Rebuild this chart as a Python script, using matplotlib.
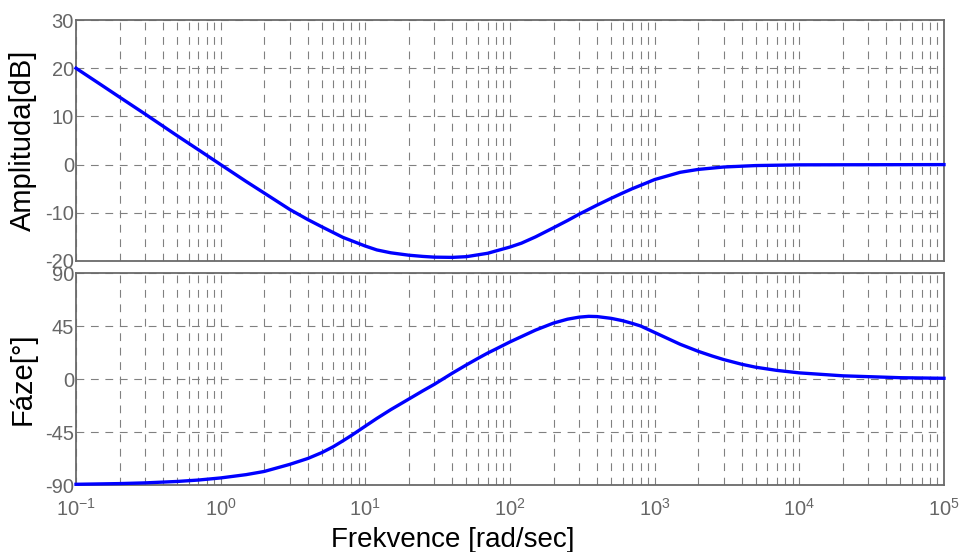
"""
Bode plot (amplitude and phase) redrawn from a MATLAB style figure.
"""

# import libraries
import matplotlib
matplotlib.use("Agg")
import matplotlib.pyplot as plt
from matplotlib.ticker import LogLocator, NullFormatter, FixedLocator, FixedFormatter

#####
# DATA
#####

# amplitude curve
w_amp = [0.1, 0.15, 0.2, 0.3, 0.5, 0.7, 1, 1.5, 2, 3, 4, 5, 7, 10, 12, 15,
	20, 25, 30, 40, 50, 70, 100, 120, 150, 200, 250, 300, 400, 500, 600,
	700, 800, 1000, 1500, 2000, 3000, 5000, 10000, 100000]
amp = [20, 16.5, 14, 10.5, 6, 3.1, 0, -3.5, -5.9, -9.3, -11.4, -12.9, -15.1,
	-16.9, -17.7, -18.3, -18.8, -19.05, -19.2, -19.25, -19.1, -18.4, -17.1,
	-16.3, -15.0, -13.1, -11.6, -10.3, -8.4, -7.0, -5.9, -5.0, -4.3, -3.1,
	-1.6, -1.0, -0.5, -0.2, -0.05, 0]

# phase curve
w_ph = [0.1, 0.2, 0.3, 0.5, 0.7, 1, 1.5, 2, 3, 4, 5, 6, 7, 8, 10, 12, 15,
	20, 25, 30, 40, 50, 60, 70, 80, 100, 120, 150, 200, 250, 300, 350, 400,
	500, 600, 700, 800, 1000, 1200, 1500, 2000, 2500, 3000, 4000, 5000,
	7000, 10000, 20000, 50000, 100000]
phase = [-89.4, -88.8, -88.2, -87, -85.8, -84, -81.2, -78.5, -72.5, -67.5,
	-62.5, -57.5, -52.5, -48, -40, -33.5, -26, -17, -10, -4.5, 5, 12, 17.5,
	22, 25.5, 31.5, 36, 41.5, 47.5, 50.8, 52.5, 53.2, 53, 51.5, 49.5, 47.2,
	45, 39.5, 35, 29.5, 23.5, 19.5, 16.5, 12.5, 10, 7.3, 5.2, 2.7, 1.1, 0.6]

# axes limits and tick labels
amp_ticks = [-20, -10, 0, 10, 20, 30]
phase_ticks = [-90, -45, 0, 45, 90]
x_decades = [0.1, 1, 10, 100, 1000, 10000, 100000]
x_decade_labels = ["10$^{\\mathregular{-1}}$", "10$^{0}$", "10$^{1}$",
	"10$^{2}$", "10$^{3}$", "10$^{4}$", "10$^{5}$"]

#####
# CREATE AND FORMAT FIGURE
#####

plt.rcParams["font.family"] = ["Liberation Sans", "DejaVu Sans"]
plt.rcParams["mathtext.fontset"] = "custom"
plt.rcParams["mathtext.rm"] = "Liberation Sans"
plt.rcParams["mathtext.default"] = "regular"
plt.rcParams["axes.unicode_minus"] = False

fontsize_ticks = 14.5
fontsize_labels = 21
grey_text = "#666666"
grey_spine = "#6a6a6a"
grey_grid = "#808080"
grid_dash = (0, (7, 6))

fig = plt.figure(figsize = (9.61, 5.52), dpi = 100)
ax_amp = fig.add_axes([76/961, 1 - 261/552, 868/961, 241/552])
ax_ph = fig.add_axes([76/961, 1 - 485/552, 868/961, 212/552])

for ax in [ax_amp, ax_ph]:
	ax.set_xscale("log")
	ax.set_xlim([x_decades[0], x_decades[-1]])
	ax.xaxis.set_major_locator(FixedLocator(x_decades))
	ax.xaxis.set_major_formatter(FixedFormatter(x_decade_labels))
	ax.xaxis.set_minor_locator(LogLocator(base = 10, subs = range(2, 10), numticks = 100))
	ax.xaxis.set_minor_formatter(NullFormatter())
	ax.grid(True, which = "major", axis = "both", color = grey_grid,
		linewidth = 0.8, linestyle = grid_dash)
	ax.grid(True, which = "minor", axis = "x", color = grey_grid,
		linewidth = 0.8, linestyle = grid_dash)
	ax.tick_params(which = "both", length = 0, colors = grey_text,
		labelsize = fontsize_ticks)
	ax.tick_params(axis = "y", pad = 1.5)
	ax.tick_params(axis = "x", pad = 9)
	for s in ax.spines.values():
		s.set_color(grey_spine)
		s.set_linewidth(1.3)
	ax.set_axisbelow(True)

# amplitude plot
ax_amp.plot(w_amp, amp, color = "#0000ff", linewidth = 2.4, clip_on = False, zorder = 3)
ax_amp.set_ylim([-20, 30])
ax_amp.set_yticks(amp_ticks)
ax_amp.tick_params(axis = "x", labelbottom = False)
ax_amp.set_ylabel("Amplituda[dB]", fontsize = fontsize_labels, color = "black")
ax_amp.yaxis.set_label_coords(-0.045, 0.5)

# phase plot
ax_ph.plot(w_ph, phase, color = "#0000ff", linewidth = 2.4, clip_on = False, zorder = 3)
ax_ph.set_ylim([-90, 90])
ax_ph.set_yticks(phase_ticks)
ax_ph.set_ylabel("Fáze[°]", fontsize = fontsize_labels, color = "black")
ax_ph.yaxis.set_label_coords(-0.045, 0.5)
ax_ph.set_xlabel("Frekvence [rad/sec]", fontsize = 20, color = "black")
ax_ph.xaxis.set_label_coords(0.434, -0.2)

fig.savefig("out.png", dpi = 100)
